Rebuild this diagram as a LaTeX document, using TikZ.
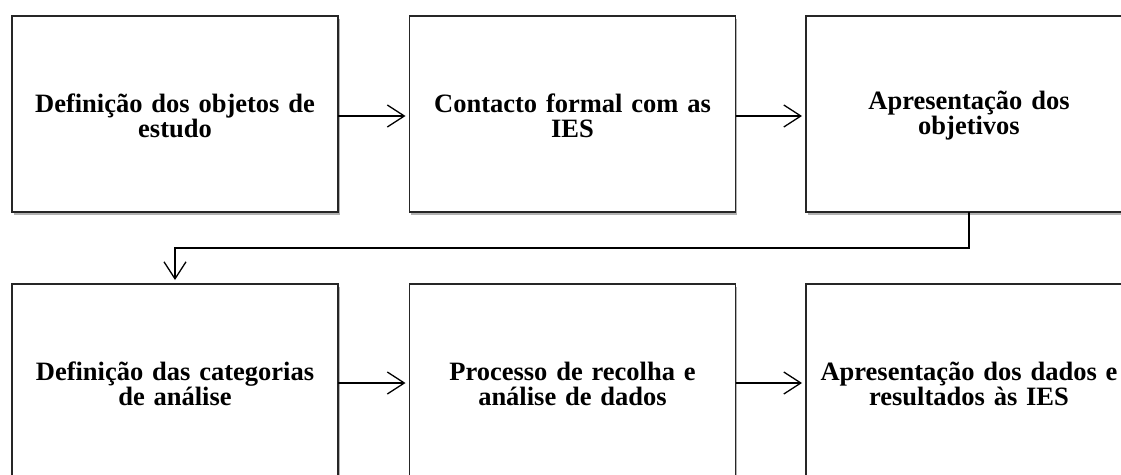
\documentclass[tikz,border=0pt]{standalone}
\usepackage{fontspec}
\setmainfont{Liberation Serif}
\usetikzlibrary{arrows.meta,shadows}
\begin{document}
\begin{tikzpicture}[x=1pt,y=1pt,
  stepbox/.style={draw=black!85, line width=1.3pt, fill=white, minimum width=326pt, minimum height=196pt,
    inner sep=0pt, outer sep=0pt,
    drop shadow={shadow xshift=1.5pt, shadow yshift=-2.5pt, opacity=0.3, fill=black}},
  lbl/.style={align=center, font=\bfseries\fontsize{26.5}{25}\selectfont, text width=320pt},
  conn/.style={line width=1.3pt, -{Straight Barb[length=17pt,width=22pt,line width=1.3pt]}, shorten >=4pt}
]
\useasboundingbox (0,0) rectangle (1121,-474);
\clip (0,0) rectangle (1121,-474);
\node[stepbox] (b1) at (175,-114) {};
\node[stepbox] (b2) at (572.5,-114) {};
\node[stepbox] (b3) at (969,-114) {};
\node[stepbox] (b4) at (175,-382) {};
\node[stepbox] (b5) at (572.5,-382) {};
\node[stepbox] (b6) at (969,-382) {};
\node[lbl] (t1) at (175,-116) {Definição dos objetos de\\estudo};
\node[lbl] (t2) at (572.5,-116) {Contacto formal com as\\IES};
\node[lbl] (t3) at (969,-116) {Apresentação dos\\objetivos};
\node[lbl] (t4) at (175,-384) {Definição das categorias\\de análise};
\node[lbl] (t5) at (572.5,-384) {Processo de recolha e\\análise de dados};
\node[lbl] (t6) at (969,-384) {Apresentação dos dados e\\resultados às IES};
\coordinate (m) at (969,-248);
\draw[conn] ([yshift=-2pt]b1.east) -- ([yshift=-2pt]b2.west);
\draw[conn] ([yshift=-2pt]b2.east) -- ([yshift=-2pt]b3.west);
\draw[conn] (b3.south) |- (m) -| (b4.north);
\draw[conn] ([yshift=-1pt]b4.east) -- ([yshift=-1pt]b5.west);
\draw[conn] ([yshift=-1pt]b5.east) -- ([yshift=-1pt]b6.west);
\end{tikzpicture}
\end{document}
